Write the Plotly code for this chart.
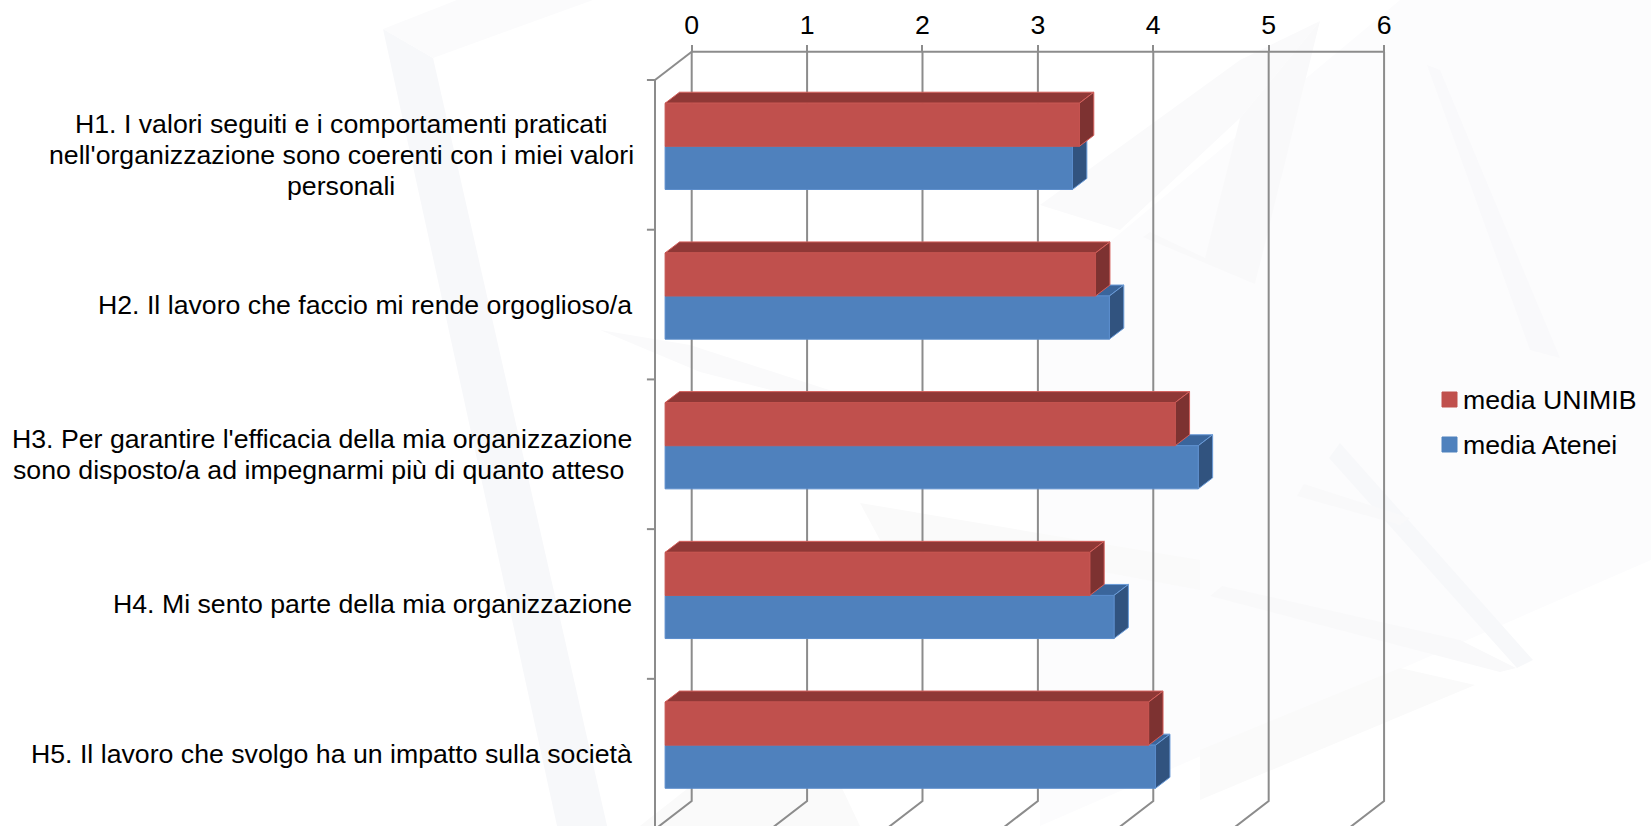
import plotly.graph_objects as go

W, H = 1651, 826

# one inner list per tick label, broken where the reference breaks it
categories = [
    [
        "H1. I valori seguiti e i comportamenti praticati",
        "nell'organizzazione sono coerenti con i miei valori",
        "personali",
    ],
    ["H2. Il lavoro che faccio mi rende orgoglioso/a"],
    [
        "H3. Per garantire l'efficacia della mia organizzazione",
        "sono disposto/a ad impegnarmi più di quanto atteso\u00a0",
    ],
    ["H4. Mi sento parte della mia organizzazione"],
    ["H5. Il lavoro che svolgo ha un impatto sulla società"],
]
media_unimib = [3.59, 3.73, 4.42, 3.68, 4.19]
media_atenei = [3.53, 3.85, 4.62, 3.89, 4.25]
x_ticks = [0, 1, 2, 3, 4, 5, 6]

# oblique projection of the old 3D chart, in axis units
BAR_LEFT = -0.2305
BAR_H = 0.288
GROUP_SHIFT = -0.057
DEPTH_X = 0.125
DEPTH_Y = 0.0735
WALL_X = 0.318
WALL_Y = 0.189
WALL_TOP = -0.689
FLOOR_Y = 4.316

GRID = "#8c8c8c"
FONT_SIZE = 26.7
LINE_PX = 31

# faint watermark behind the chart, in page pixels
watermark = [
    ("#fcfcfd", [(1040, 826), (1651, 560), (1651, 0), (1400, 0), (1040, 300)]),
    ("#f7f8fa", [(383, 29), (433, 58), (607, 826), (557, 826)]),
    ("#fbfbfc", [(383, 29), (457, 0), (593, 0), (433, 58)]),
    ("#fafafb", [(600, 330), (690, 345), (860, 400), (850, 410), (700, 372)]),
    ("#f9f9fa", [(1320, 21), (1255, 284), (1143, 237), (1150, 232), (1205, 258), (1240, 118)]),
    ("#fafafb", [(1040, 205), (1240, 60), (1320, 21), (1240, 118), (1120, 230)]),
    ("#f9f9fb", [(1427, 65), (1440, 70), (1560, 358), (1530, 350)]),
    ("#f7f8fa", [(1340, 443), (1533, 660), (1517, 668), (1329, 458)]),
    ("#f9f9fa", [(1297, 496), (1304, 484), (1410, 518), (1400, 525)]),
    ("#f9f9fa", [(1210, 596), (1222, 586), (1460, 640), (1516, 668), (1500, 672)]),
    ("#fafafa", [(1200, 750), (1400, 668), (1475, 685), (1200, 800)]),
    ("#fafafa", [(860, 503), (1200, 560), (1200, 590), (1040, 560), (880, 540)]),
    ("#fafafa", [(640, 826), (800, 700), (860, 826)]),
]


def px_x(v):
    return v / W


def px_y(v):
    return 1 - v / H


def bar_faces(values, offset):
    front_x, front_y, top_x, top_y, side_x, side_y = [], [], [], [], [], []
    for i, v in enumerate(values):
        right = v + BAR_LEFT
        y0 = i + GROUP_SHIFT + offset
        y1 = y0 + BAR_H
        front_x += [BAR_LEFT, right, right, BAR_LEFT, BAR_LEFT, None]
        front_y += [y0, y0, y1, y1, y0, None]
        top_x += [BAR_LEFT, BAR_LEFT + DEPTH_X, right + DEPTH_X, right, BAR_LEFT, None]
        top_y += [y0, y0 - DEPTH_Y, y0 - DEPTH_Y, y0, y0, None]
        side_x += [right, right + DEPTH_X, right + DEPTH_X, right, right, None]
        side_y += [y0, y0 - DEPTH_Y, y1 - DEPTH_Y, y1, y0, None]
    return (front_x, front_y), (top_x, top_y), (side_x, side_y)


def add_series(fig, name, values, offset, front, top, side, edge, front_edge):
    f, t, s = bar_faces(values, offset)
    for (xs, ys), color, line in ((t, top, edge), (s, side, edge), (f, front, front_edge)):
        fig.add_trace(
            go.Scatter(
                x=xs,
                y=ys,
                name=name,
                mode="lines",
                fill="toself",
                fillcolor=color,
                line=dict(color=line, width=1),
                showlegend=False,
                hoverinfo="skip",
            )
        )


fig = go.Figure()

# back wall, side wall and floor of the chart box
frame_x = [0, 6, None, -WALL_X, -WALL_X, None, 0, -WALL_X, None]
frame_y = [WALL_TOP, WALL_TOP, None, -0.5, FLOOR_Y + WALL_Y, None, WALL_TOP, -0.5, None]
for t in x_ticks:
    frame_x += [t, t, t - WALL_X, None]
    frame_y += [WALL_TOP, FLOOR_Y, FLOOR_Y + WALL_Y, None]
for i in range(len(categories) + 1):
    frame_x += [-WALL_X - 0.07, -WALL_X, None]
    frame_y += [i - 0.5, i - 0.5, None]
fig.add_trace(
    go.Scatter(
        x=frame_x,
        y=frame_y,
        mode="lines",
        line=dict(color=GRID, width=2),
        showlegend=False,
        hoverinfo="skip",
    )
)

add_series(fig, "media Atenei", media_atenei, 0, "#4f81bd", "#3a659b", "#31537f", "#6a9bd8", "#5a8ccb")
add_series(fig, "media UNIMIB", media_unimib, -BAR_H, "#c0504d", "#8f3836", "#7d3231", "#d5605c", "#c4534f")

shapes = []
for color, pts in watermark:
    path = "M " + " L ".join(f"{px_x(x):.4f} {px_y(y):.4f}" for x, y in pts) + " Z"
    shapes.append(dict(type="path", path=path, xref="paper", yref="paper", fillcolor=color, line_width=0, layer="below"))

# legend swatches sit right next to their text, closer than plotly's legend allows
for name, color, cy in (("media UNIMIB", "#c0504d", 399.5), ("media Atenei", "#4f81bd", 444.5)):
    shapes.append(
        dict(
            type="rect",
            xref="paper",
            yref="paper",
            x0=px_x(1442),
            x1=px_x(1457),
            y0=px_y(cy - 7.5),
            y1=px_y(cy + 7.5),
            fillcolor=color,
            line=dict(color=color, width=1),
        )
    )

annotations = []
# plotly's <br> spacing is too loose here, so each line is placed on its own
for i, lines in enumerate(categories):
    centred = len(lines) == 3
    for j, line in enumerate(lines):
        annotations.append(
            dict(
                text=line,
                xref="paper",
                yref="y",
                x=px_x(341 if centred else 634),
                y=i,
                yshift=((len(lines) - 1) / 2 - j) * LINE_PX,
                xanchor="center" if centred else "right",
                yanchor="middle",
                showarrow=False,
            )
        )
for name, cy in (("media UNIMIB", 399.5), ("media Atenei", 444.5)):
    annotations.append(
        dict(
            text=name,
            xref="paper",
            yref="paper",
            x=px_x(1461),
            y=px_y(cy),
            xanchor="left",
            yanchor="middle",
            showarrow=False,
        )
    )

fig.update_layout(
    width=W,
    height=H,
    margin=dict(l=0, r=0, t=0, b=0),
    paper_bgcolor="white",
    plot_bgcolor="rgba(0,0,0,0)",
    font=dict(family="Liberation Sans, Arial, sans-serif", size=FONT_SIZE, color="black"),
    showlegend=False,
    shapes=shapes,
    annotations=annotations,
    xaxis=dict(
        domain=[px_x(640), px_x(1400)],
        range=[-0.448, 6.138],
        anchor="free",
        position=px_y(51.7),
        side="top",
        tickvals=x_ticks,
        ticks="outside",
        ticklen=7,
        tickwidth=2,
        tickcolor=GRID,
        showline=False,
        showgrid=False,
        zeroline=False,
    ),
    yaxis=dict(
        domain=[0, px_y(30)],
        range=[4.483, -0.834],
        visible=False,
    ),
)

fig.write_html(
    "out.html",
    config={"displayModeBar": False},
    post_script="document.body.style.margin='0';document.body.style.overflow='hidden';",
)
